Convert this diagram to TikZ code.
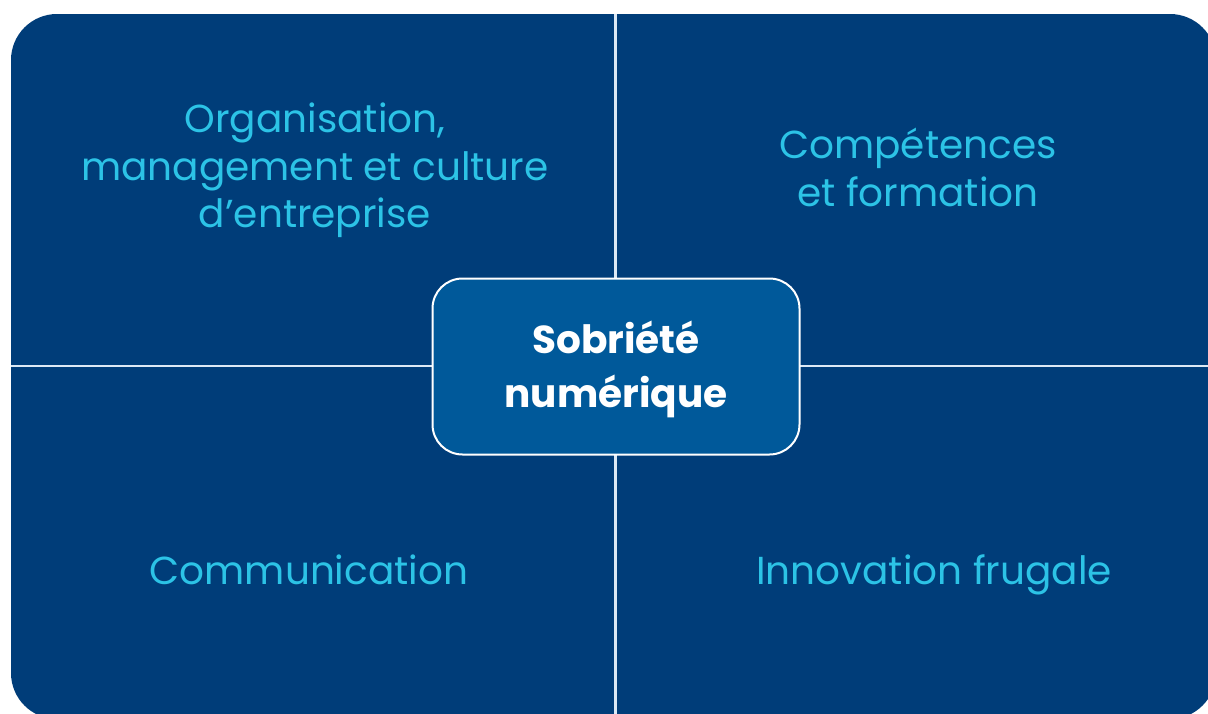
\documentclass[tikz,border=0pt]{standalone}
\usepackage{fontspec}
\setmainfont{Poppins}
\definecolor{bgblue}{HTML}{003D79}
\definecolor{midblue}{HTML}{00599A}
\definecolor{cyantext}{HTML}{2CC3E6}
\definecolor{divline}{HTML}{DCE9F5}
\begin{document}
\begin{tikzpicture}[x=1pt,y=-1pt,
  quadtext/.style={text=cyantext,font=\fontsize{39}{47.5}\selectfont,align=center,inner sep=0pt},
  centertext/.style={text=white,font=\fontsize{39}{54}\selectfont\bfseries,align=center,inner sep=0pt},
  divider/.style={draw=divline,line width=2.5pt}]
\useasboundingbox (0,0) rectangle (1208,713);
\fill[white] (0,0) rectangle (1208,713);
\begin{scope}
\clip (0,0) rectangle (1208,713);
\fill[bgblue,rounded corners=46pt] (11,14) rectangle (1216,719);
\coordinate (vt) at (615.5,14);
\coordinate (vb) at (615.5,719);
\coordinate (hl) at (11,366);
\coordinate (hr) at (1216,366);
\draw[divider] (vt) -- (vb);
\draw[divider] (hl) -- (hr);
\end{scope}
\node[draw=white,line width=2pt,fill=midblue,rounded corners=30pt,minimum width=367pt,minimum height=176pt] (center) at (616,366.5) {};
\node[centertext] (centerlabel) at (616,369.5) {Sobriété\\numérique};
\node[quadtext] (org) at (315,170.5) {Organisation,\\management et culture\\d’entreprise};
\node[quadtext] (comp) at (918,167.5) {Compétences\\et formation};
\node[quadtext,anchor=base] (comm) at (309,584) {Communication};
\node[quadtext,anchor=base] (innov) at (934,584) {Innovation frugale};
\end{tikzpicture}
\end{document}
